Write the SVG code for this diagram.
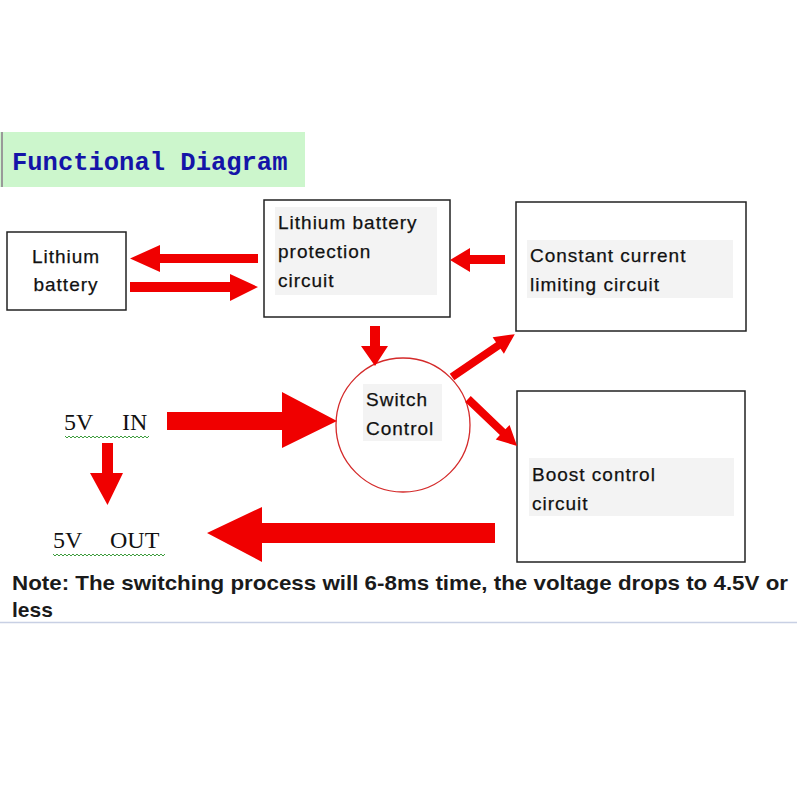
<svg xmlns="http://www.w3.org/2000/svg" width="800" height="800" viewBox="0 0 800 800">
<defs>
<style>
.box{fill:#fff;stroke:#222;stroke-width:1.5}
.hl{fill:#f3f3f3}
.lbl{font-family:"Liberation Sans",Arial,sans-serif;font-size:19px;fill:#111;letter-spacing:1px;stroke:#111;stroke-width:0.25}
.arr{fill:#f00000}
.serif{font-family:"Liberation Serif","Times New Roman",serif;font-size:24px;fill:#111}
.wavy{fill:none;stroke:#3c9c3c;stroke-width:1}
</style>
</defs>
<rect width="800" height="800" fill="#fff"/>
<g id="title">
<rect x="0" y="132" width="305" height="55" fill="#ccf6cc"/>
<line x1="2" y1="132" x2="2" y2="187" stroke="#999" stroke-width="2"/>
<text x="12" y="170" font-family="'Liberation Mono','Courier New',monospace" font-weight="bold" font-size="25.5" fill="#1414a8">Functional Diagram</text>
</g>
<g id="lithium-battery">
<rect class="box" x="7" y="232" width="119" height="78"/>
<text class="lbl" x="66" y="263" text-anchor="middle">Lithium</text>
<text class="lbl" x="66" y="291" text-anchor="middle">battery</text>
</g>
<g id="protection">
<rect class="box" x="264" y="200" width="186" height="117"/>
<rect class="hl" x="275" y="207" width="162" height="88"/>
<text class="lbl" x="278" y="229">Lithium battery</text>
<text class="lbl" x="278" y="258">protection</text>
<text class="lbl" x="278" y="287">circuit</text>
</g>
<g id="constant-current">
<rect class="box" x="516" y="202" width="230" height="129"/>
<rect class="hl" x="527" y="240" width="206" height="58"/>
<text class="lbl" x="530" y="262">Constant current</text>
<text class="lbl" x="530" y="291">limiting circuit</text>
</g>
<g id="boost">
<rect class="box" x="517" y="391" width="228" height="171"/>
<rect class="hl" x="529" y="458" width="205" height="58"/>
<text class="lbl" x="532" y="481">Boost control</text>
<text class="lbl" x="532" y="510">circuit</text>
</g>
<g id="switch">
<circle cx="403" cy="425" r="67" fill="#fff" stroke="#d42a2a" stroke-width="1.3"/>
<rect class="hl" x="363" y="384" width="79" height="57"/>
<text class="lbl" x="366" y="406">Switch</text>
<text class="lbl" x="366" y="435">Control</text>
</g>
<g id="in-label">
<text class="serif" x="64" y="430">5V</text>
<text class="serif" x="122" y="430">IN</text>
<path class="wavy" d="M65 436 l2 2 l2 -2 l2 2 l2 -2 l2 2 l2 -2 l2 2 l2 -2 l2 2 l2 -2 l2 2 l2 -2 l2 2 l2 -2 l2 2 l2 -2 l2 2 l2 -2 l2 2 l2 -2 l2 2 l2 -2 l2 2 l2 -2 l2 2 l2 -2 l2 2 l2 -2 l2 2 l2 -2 l2 2 l2 -2 l2 2 l2 -2 l2 2 l2 -2 l2 2 l2 -2 l2 2 l2 -2 l2 2 l2 -2"/>
</g>
<g id="out-label">
<text class="serif" x="53" y="548">5V</text>
<text class="serif" x="110" y="548">OUT</text>
<path class="wavy" d="M53 554 l2 2 l2 -2 l2 2 l2 -2 l2 2 l2 -2 l2 2 l2 -2 l2 2 l2 -2 l2 2 l2 -2 l2 2 l2 -2 l2 2 l2 -2 l2 2 l2 -2 l2 2 l2 -2 l2 2 l2 -2 l2 2 l2 -2 l2 2 l2 -2 l2 2 l2 -2 l2 2 l2 -2 l2 2 l2 -2 l2 2 l2 -2 l2 2 l2 -2 l2 2 l2 -2 l2 2 l2 -2 l2 2 l2 -2 l2 2 l2 -2 l2 2 l2 -2 l2 2 l2 -2 l2 2 l2 -2 l2 2 l2 -2 l2 2 l2 -2 l2 2 l2 -2"/>
</g>
<g id="connectors">
<polygon class="arr" points="258,254 160,254 160,245 130,258.5 160,272 160,263 258,263"/>
<polygon class="arr" points="130,282 230,282 230,274 258,287 230,301 230,292 130,292"/>
<polygon class="arr" points="505,255 470,255 470,248 450,260 470,272 470,264 505,264"/>
<polygon class="arr" points="370,326 380,326 380,346 388,346 375,366 361,346 370,346"/>
<polygon class="arr" points="0,-4 56,-4 56,-10 76,0 56,10 56,4 0,4" transform="translate(452,377) rotate(-34.3)"/>
<polygon class="arr" points="0,-4 48,-4 48,-10 68,0 48,10 48,4 0,4" transform="translate(468,399) rotate(43.8)"/>
<polygon class="arr" points="167,412 282,412 282,392 337,421 282,448 282,430 167,430"/>
<polygon class="arr" points="102,443 113,443 113,473 123,473 107.5,505 90,473 102,473"/>
<polygon class="arr" points="495,523 262,523 262,507 207,533 262,562 262,543 495,543"/>
</g>
<g id="note">
<text x="12" y="590" font-family="'Liberation Sans',Arial,sans-serif" font-weight="bold" font-size="21" fill="#1a1a1a" textLength="776" lengthAdjust="spacingAndGlyphs">Note: The switching process will 6-8ms time, the voltage drops to 4.5V or</text>
<text x="12" y="617" font-family="'Liberation Sans',Arial,sans-serif" font-weight="bold" font-size="21" fill="#1a1a1a">less</text>
<line x1="0" y1="622.5" x2="797" y2="622.5" stroke="#c8d0e4" stroke-width="1.5"/>
</g>
</svg>
